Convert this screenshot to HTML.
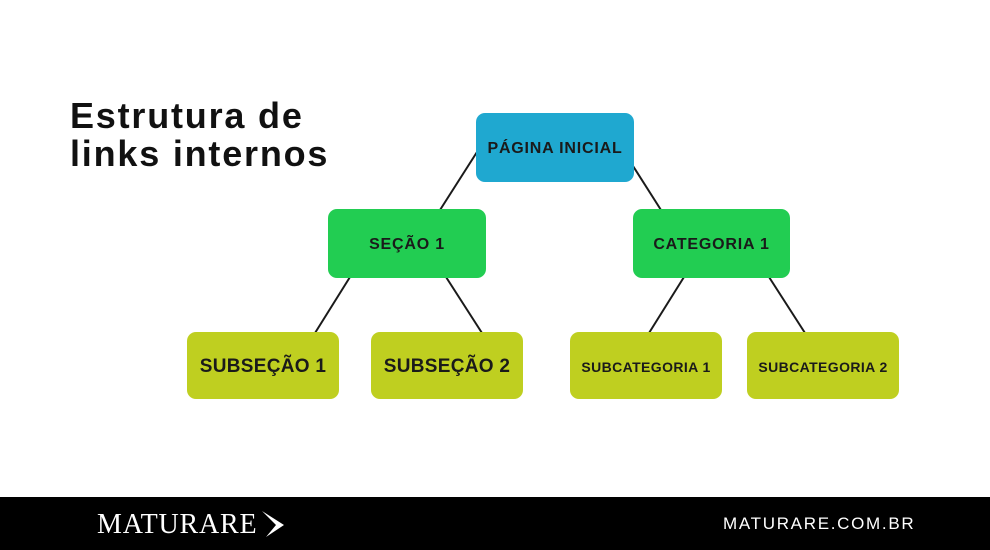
<!DOCTYPE html>
<html><head><meta charset="utf-8"><style>
body{margin:0;width:990px;height:550px;background:#fff;position:relative;overflow:hidden;font-family:"Liberation Sans",sans-serif;}
.b{position:absolute;border-radius:9px;display:flex;align-items:center;justify-content:center;font-weight:bold;color:#1a1a1a;padding-top:3px;box-sizing:border-box;}
.bl{background:#1fa8d0}.g{background:#22cd52}.y{background:#bfcf20}
.t{position:absolute;left:70px;top:97px;font-size:36px;font-weight:bold;line-height:38px;color:#111;letter-spacing:1.8px;}
.f{position:absolute;left:0;top:497px;width:990px;height:53px;background:#000;}
</style></head><body>
<div class="t">Estrutura de<br>links internos</div>
<svg width="990" height="550" style="position:absolute;left:0;top:0">
<g stroke="#1a1a1a" stroke-width="2">
<line x1="477" y1="152" x2="440" y2="210"/>
<line x1="633" y1="166" x2="661" y2="210"/>
<line x1="350" y1="277" x2="315" y2="333"/>
<line x1="446" y1="277" x2="482" y2="333"/>
<line x1="684" y1="277" x2="649" y2="333"/>
<line x1="769" y1="277" x2="805" y2="333"/>
</g></svg>
<div class="b bl" style="left:476px;top:113px;width:158px;height:69px;font-size:16px;letter-spacing:0.8px">PÁGINA INICIAL</div>
<div class="b g" style="left:328px;top:209px;width:158px;height:69px;font-size:16px;letter-spacing:0.8px">SEÇÃO 1</div>
<div class="b g" style="left:633px;top:209px;width:157px;height:69px;font-size:16px;letter-spacing:0.8px">CATEGORIA 1</div>
<div class="b y" style="left:187px;top:332px;width:152px;height:67px;font-size:19px;letter-spacing:0.3px">SUBSEÇÃO 1</div>
<div class="b y" style="left:371px;top:332px;width:152px;height:67px;font-size:19px;letter-spacing:0.3px">SUBSEÇÃO 2</div>
<div class="b y" style="left:570px;top:332px;width:152px;height:67px;font-size:14px;letter-spacing:0.4px">SUBCATEGORIA 1</div>
<div class="b y" style="left:747px;top:332px;width:152px;height:67px;font-size:14px;letter-spacing:0.4px">SUBCATEGORIA 2</div>
<div class="f">
<div style="position:absolute;left:97px;top:12px;color:#fff;font-family:'Liberation Serif',serif;font-size:28px;letter-spacing:0.8px">MATURARE</div>
<svg style="position:absolute;left:260px;top:12px" width="26" height="30"><path d="M2 2 L24 16 L6 28 L16 16 Z" fill="#fff"/></svg>
<div style="position:absolute;left:723px;top:17px;color:#fff;font-size:17px;letter-spacing:1.7px">MATURARE.COM.BR</div>
</div>
</body></html>
